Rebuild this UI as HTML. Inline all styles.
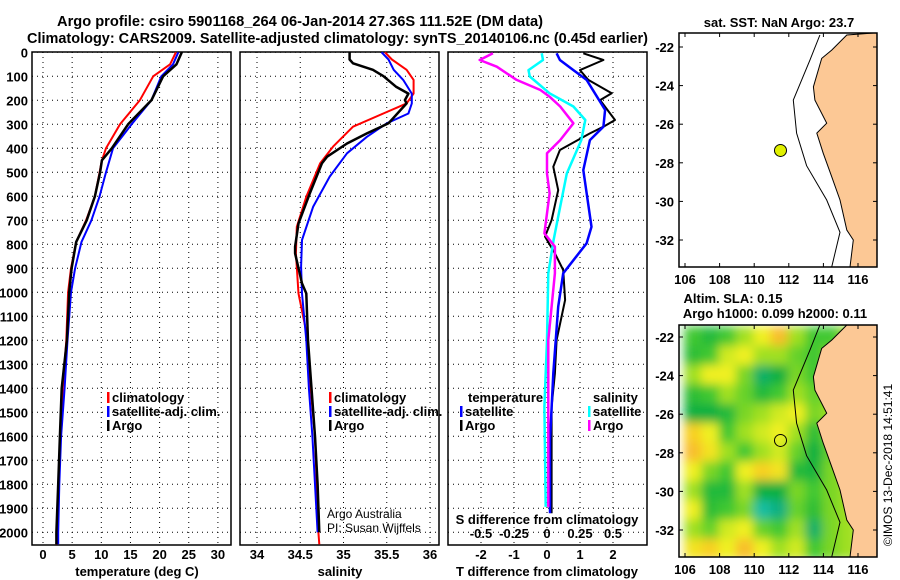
<!DOCTYPE html>
<html><head><meta charset="utf-8">
<style>
html,body{margin:0;padding:0;background:#fff;}
svg{display:block;font-family:"Liberation Sans",sans-serif;}
.b{font-weight:bold;font-size:13px;}
.n{font-weight:normal;font-size:12px;}
.t{font-weight:bold;font-size:14.5px;}
</style></head>
<body>
<svg id="c" width="900" height="580" viewBox="0 0 900 580">
<text class="t" x="57" y="26" textLength="486" lengthAdjust="spacingAndGlyphs">Argo profile: csiro 5901168_264 06-Jan-2014 27.36S 111.52E (DM data)</text>
<text class="t" x="27" y="43" textLength="621" lengthAdjust="spacingAndGlyphs">Climatology: CARS2009. Satellite-adjusted climatology: synTS_20140106.nc (0.45d earlier)</text>
</svg>
<script>
// ---- data ----
const depthGrid=[0,100,200,300,400,500,600,700,800,900,1000,1100,1200,1300,1400,1500,1600,1700,1800,1900,2000];
const tempTicks=[0,5,10,15,20,25,30];
const salTicks=[34,34.5,35,35.5,36];
const salTickLabels=["34","34.5","35","35.5","36"];
const tDiffTicks=[-2,-1,0,1,2];
const sDiffTicks=[-0.5,-0.25,0,0.25,0.5];
const sDiffLabels=["-0.5","-0.25","0","0.25","0.5"];

const tempDepth=[0,50,100,200,300,400,450,500,600,700,790,900,1000,1200,1400,1600,1800,2000,2050];
const tempArgo=[23.8,22.9,20.6,18.6,14.6,11.8,10.1,9.8,8.9,7.5,5.7,4.9,4.5,4.1,3.2,2.9,2.6,2.3,2.3];
const tempClim=[22.8,21.8,18.9,16.6,13.2,10.8,10.1,9.7,8.9,7.4,5.7,4.8,4.3,4.0,3.4,3.0,2.7,2.4,2.3];
const tempSat=[23.2,22.3,20.3,18.6,15.2,12.0,11.4,10.8,9.7,8.3,6.6,5.5,4.8,4.2,3.7,3.1,2.8,2.6,2.6];

const salArgoDepth=[0,30,46,73,99,144,172,199,213,296,338,380,435,463,588,713,810,838,963,1005,1200,1400,1600,1800,2000];
const salArgo=[35.07,35.07,35.11,35.34,35.46,35.61,35.75,35.71,35.73,35.52,35.27,35.04,34.81,34.75,34.61,34.48,34.44,34.44,34.52,34.57,34.59,34.63,34.67,34.70,34.72];
const salClimDepth=[0,30,73,115,172,213,255,310,393,463,602,727,838,1005,1200,1400,1600,1800,2000,2050];
const salClim=[35.48,35.56,35.73,35.81,35.81,35.73,35.46,35.11,34.88,34.73,34.57,34.46,34.45,34.48,34.59,34.62,34.67,34.69,34.71,34.72];
const salSatDepth=[0,30,73,115,172,213,255,296,352,421,518,643,782,893,1005,1200,1400,1600,1800,2000];
const salSat=[35.44,35.52,35.58,35.69,35.79,35.79,35.75,35.50,35.27,35.04,34.84,34.65,34.52,34.51,34.52,34.57,34.60,34.64,34.67,34.70];

const tArgoDiffDepth=[4,32,74,115,171,199,282,310,338,407,477,574,699,768,838,907,1032,1199,1338,1477,1755,1921];
const tArgoDiff=[1.10,1.71,1.00,1.25,1.96,1.61,2.06,1.71,1.30,0.39,0.19,0.34,0.14,-0.06,0.24,0.49,0.55,0.29,0.24,0.14,0.14,0.14];
const tSatDiffDepth=[4,32,74,115,171,240,310,366,491,727,796,921,1060,1338,1616,1921];
const tSatDiff=[0.29,0.39,0.80,1.20,1.45,1.76,1.71,1.30,1.10,1.35,1.20,0.49,0.34,0.19,0.09,0.09];
const sSatDiffDepth=[4,32,74,101,171,226,282,366,505,643,782,921,1199,1477,1894];
const sSatDiff=[-0.04,-0.03,-0.14,-0.13,0.02,0.20,0.29,0.26,0.15,0.10,0.05,0.01,0.00,-0.02,-0.01];
const sArgoDiffDepth=[4,32,60,115,157,185,226,296,366,421,505,588,754,810,921,1199,1477,1894];
const sArgoDiff=[-0.41,-0.51,-0.38,-0.23,-0.05,0.02,0.10,0.20,0.10,0.00,0.00,0.02,-0.02,0.06,0.06,0.01,0.01,0.01];

const lonTicks=[106,108,110,112,114,116];
const latTicks=[-22,-24,-26,-28,-30,-32];
const coastLon=[115.35,114.48,113.9,113.42,113.51,114.19,113.62,113.99,114.48,114.96,115.35,115.73,115.54];
const coastLat=[-21.38,-22.16,-22.59,-24.06,-24.75,-25.95,-26.46,-27.5,-28.72,-29.93,-31.48,-32.0,-33.4];
const shelfLon=[113.8,113.23,112.26,112.45,113.03,114.19,114.96,114.48];
const shelfLat=[-21.38,-22.66,-24.75,-26.46,-28.15,-29.93,-31.6,-33.4];
const argoLon=111.52, argoLat=-27.36;
const slaLon=[106.5,107.5,108.5,109.5,110.5,111.5,112.5,113.5,114.5,115.5];
const slaLat=[-22,-23,-24,-25,-26,-27,-28,-29,-30,-31,-32,-33];
const slaGrid=[
[0,-0.03,0,0.05,0.1,0.18,0.05,0,0,0.05],
[-0.02,0,0.08,0.1,0.05,0.05,0.02,0,0.03,0.05],
[0.05,0.1,0.1,0.03,-0.08,-0.05,0.03,0,0.03,0.05],
[-0.02,0,0.05,0.02,-0.03,0,0.05,0.02,0.03,0.05],
[-0.05,-0.05,-0.03,0.03,0.05,0.08,0.1,0.03,0.05,0.05],
[0.15,0.1,0,0.05,0.08,0.1,0.05,-0.02,0.03,0.05],
[0.18,0.12,0.05,0,0.05,0.08,0.02,-0.05,0.02,0.05],
[0.1,0.03,0,0.1,0.15,0.12,-0.03,-0.04,0.03,0.05],
[0.05,-0.03,-0.03,0.05,-0.05,-0.05,0.03,0,0.03,0.05],
[0.1,-0.02,0,0.03,-0.12,-0.1,0.02,-0.02,0.03,0.05],
[0.05,0.02,0.08,0.1,0.02,0,0.05,-0.08,0.03,0.05],
[0.12,0.15,0.1,0.18,0.1,0.05,0.08,0,0.03,0.05]];

// ---- scales ----
const yD=d=>52.3+d*0.24;
const xT=t=>43+t*5.83;
const xS=s=>257+(s-34)*86.5;
const xTd=t=>547+t*33;
const xSd=s=>547+s*132;
const lonX=l=>685+(l-106)*17.3;
const latY1=la=>47+(-22-la)*19.3;
const latY2=la=>337+(-22-la)*19.3;

const svg=document.getElementById('c');
const NS='http://www.w3.org/2000/svg';
function mk(tag,attrs,parent){const e=document.createElementNS(NS,tag);for(const k in attrs)e.setAttribute(k,attrs[k]);(parent||svg).appendChild(e);return e;}
function txt(s,x,y,cls,anchor,parent){const e=mk('text',{x:x,y:y,'class':cls||'b','text-anchor':anchor||'middle'},parent);e.textContent=s;return e;}

const panels=[[32,231],[240,439],[448,647]];
const PT=52,PB=545;
const grid=mk('g',{stroke:'#000','stroke-width':1,'stroke-dasharray':'1,4'});


panels.forEach(p=>depthGrid.forEach(d=>{mk('line',{x1:p[0],x2:p[1],y1:yD(d),y2:yD(d)},grid);}));
tempTicks.forEach(t=>mk('line',{x1:xT(t),x2:xT(t),y1:PT,y2:PB},grid));
salTicks.forEach(s=>mk('line',{x1:xS(s),x2:xS(s),y1:PT,y2:PB},grid));
tDiffTicks.forEach(t=>mk('line',{x1:xTd(t),x2:xTd(t),y1:PT,y2:PB},grid));

panels.forEach((p,i)=>{const r=mk('rect',{x:p[0],y:PT,width:p[1]-p[0],height:PB-PT,fill:'none',stroke:'#000','stroke-width':1.5});

});

depthGrid.forEach(d=>{const e=txt(String(d),28,yD(d)+5,'b','end');

});
tempTicks.forEach(t=>{const e=txt(String(t),xT(t),559);

});
salTicks.forEach((s,i)=>{const e=txt(salTickLabels[i],xS(s),559);

});
tDiffTicks.forEach(t=>{const e=txt(String(t),xTd(t),559);

});
sDiffTicks.forEach((s,i)=>{const e=txt(sDiffLabels[i],xSd(s),538);

});

let e;
e=txt('temperature (deg C)',137,576);
e=txt('salinity',340,576);
e=txt('T difference from climatology',547,576);
e=txt('S difference from climatology',547,524);

function line(xs,ds,xf,color,name,w){
  const pts=xs.map((v,i)=>xf(v).toFixed(1)+','+yD(ds[i]).toFixed(1)).join(' ');
  const l=mk('polyline',{points:pts,fill:'none',stroke:color,'stroke-width':w||2,'stroke-linejoin':'round'});
  
  
}
line(tempClim,tempDepth,xT,'#f00','temperature-climatology-line');
line(tempSat,tempDepth,xT,'#00f','temperature-satellite-line');
line(tempArgo,tempDepth,xT,'#000','temperature-argo-line',2.5);
line(salClim,salClimDepth,xS,'#f00','salinity-climatology-line');
line(salSat,salSatDepth,xS,'#00f','salinity-satellite-line');
line(salArgo,salArgoDepth,xS,'#000','salinity-argo-line',2.5);
line(tArgoDiff,tArgoDiffDepth,xTd,'#000','t-diff-argo-line');
line(tSatDiff,tSatDiffDepth,xTd,'#00f','t-diff-satellite-line',2.5);
line(sSatDiff,sSatDiffDepth,xSd,'#0ff','s-diff-satellite-line',2.5);
line(sArgoDiff,sArgoDiffDepth,xSd,'#f0f','s-diff-argo-line',2.5);

function legend(x,y,color,label,name){
  const g=mk('g',{});
  
  
  mk('rect',{x:x,y:y-10,width:2.5,height:11,fill:color},g);
  txt(label,x+5,y,'b','start',g);
}
legend(107,402,'#f00','climatology','legend-climatology');
legend(107,416,'#00f','satellite-adj. clim.','legend-satellite-adj');
legend(107,430,'#000','Argo','legend-argo');
legend(329,402,'#f00','climatology','legend-climatology-2');
legend(329,416,'#00f','satellite-adj. clim.','legend-satellite-adj-2');
legend(329,430,'#000','Argo','legend-argo-2');
e=txt('temperature',468,402,'b','start');
e=txt('salinity',593,402,'b','start');
legend(460,416,'#00f','satellite','legend-t-satellite');
legend(460,430,'#000','Argo','legend-t-argo');
legend(588,416,'#0ff','satellite','legend-s-satellite');
legend(588,430,'#f0f','Argo','legend-s-argo');
e=txt('Argo Australia',327,518,'n','start');
e=txt('PI: Susan Wijffels',327,532,'n','start');

// ---- maps ----
function colorFor(v){
  const st=[[-0.15,[32,210,210]],[-0.1,[16,176,128]],[-0.05,[16,176,64]],[0,[64,200,48]],[0.05,[160,224,32]],[0.1,[240,240,32]],[0.15,[248,208,32]],[0.2,[248,176,48]]];
  if(v<=st[0][0])return 'rgb('+st[0][1]+')';
  for(let i=1;i<st.length;i++){if(v<=st[i][0]){const f=(v-st[i-1][0])/(st[i][0]-st[i-1][0]);const a=st[i-1][1],b=st[i][1];return 'rgb('+a.map((c,j)=>Math.round(c+(b[j]-c)*f)).join(',')+')';}}
  return 'rgb('+st[st.length-1][1]+')';
}
const defs=mk('defs',{});
const cp=mk('clipPath',{id:'m2clip'},defs);mk('rect',{x:679,y:325,width:198,height:232},cp);
const cp1=mk('clipPath',{id:'m1clip'},defs);mk('rect',{x:679,y:33,width:198,height:234},cp1);
const fl=mk('filter',{id:'bl',x:'-10%',y:'-10%',width:'120%',height:'120%'},defs);mk('feGaussianBlur',{stdDeviation:5},fl);

function drawMap(latY,top,bot,clip,withSla,prefix){
  const g=mk('g',{'clip-path':'url(#'+clip+')'});
  
  
  mk('rect',{x:679,y:top,width:198,height:bot-top,fill:'#fff'},g);
  if(withSla){
    const hg=mk('g',{filter:'url(#bl)'},g);
    slaGrid.forEach((row,r)=>row.forEach((v,c)=>{
      const cell=mk('rect',{x:lonX(slaLon[c]-0.5)-1,y:latY(slaLat[r]+0.5)-1,width:17.3+2,height:19.3+2,fill:colorFor(v)},hg);
      
      
    }));
  }
  let lp=coastLon.map((l,i)=>lonX(l).toFixed(1)+','+latY(coastLat[i]).toFixed(1));
  lp.push(lonX(118)+','+latY(-33.6),lonX(118)+','+latY(-21.2));
  const land=mk('polygon',{points:lp.join(' '),fill:'#fcc895',stroke:'#000','stroke-width':1},g);
  
  
  const sh=mk('polyline',{points:shelfLon.map((l,i)=>lonX(l).toFixed(1)+','+latY(shelfLat[i]).toFixed(1)).join(' '),fill:'none',stroke:'#000','stroke-width':1},g);
  
  
  const dot=mk('circle',{cx:lonX(argoLon),cy:latY(argoLat),r:6,fill:withSla?'none':'#e0f000',stroke:'#000','stroke-width':1},g);
  
  
  const fr=mk('rect',{x:679,y:top,width:198,height:bot-top,fill:'none',stroke:'#000','stroke-width':1.5});
  
  
  latTicks.forEach(la=>{const t=txt(String(la),674,latY(la)+5,'b','end');
    
    
    mk('line',{x1:679,x2:683,y1:latY(la),y2:latY(la),stroke:'#000'});
    mk('line',{x1:873,x2:877,y1:latY(la),y2:latY(la),stroke:'#000'});});
  lonTicks.forEach(lo=>{const t=txt(String(lo),lonX(lo),bot+17,'b','middle');
    
    
    mk('line',{x1:lonX(lo),x2:lonX(lo),y1:bot,y2:bot-4,stroke:'#000'});
    mk('line',{x1:lonX(lo),x2:lonX(lo),y1:top,y2:top+4,stroke:'#000'});});
}
drawMap(latY1,33,267,'m1clip',false,'sst');
drawMap(latY2,325,557,'m2clip',true,'sla');
e=txt('sat. SST: NaN Argo: 23.7',779,27);
e=txt('Altim. SLA: 0.15',733,303);
e=txt('Argo h1000: 0.099 h2000: 0.11',775,318);
e=txt('©IMOS 13-Dec-2018 14:51:41',0,0,'n','middle');
e.setAttribute('transform','translate(892,465) rotate(-90)');


</script>
</body></html>
